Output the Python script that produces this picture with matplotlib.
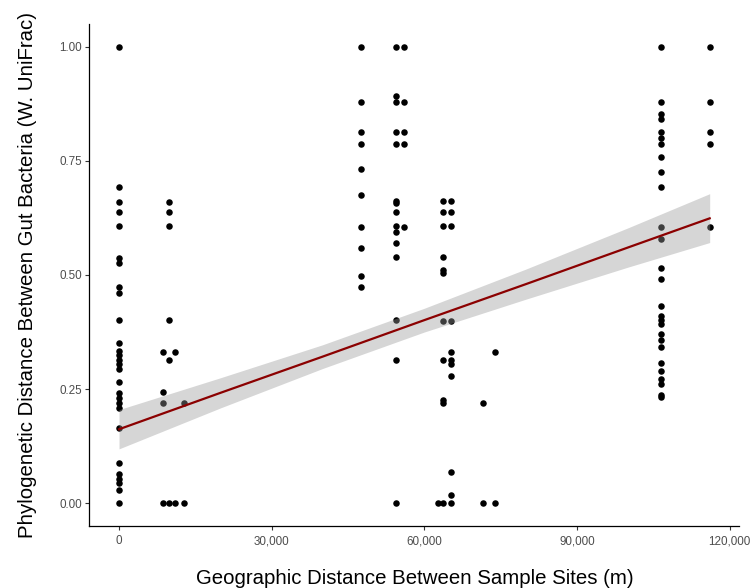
import numpy as np
from matplotlib import pyplot as plt

plt.rcParams['font.family'] = ['Liberation Sans', 'DejaVu Sans']

# distance between sites (m) and the unifrac values measured at each one
site_dist = [0, 8600, 9900, 11000, 12800, 47500, 54400, 56050,
             62700, 63600, 65250, 71450, 73900, 106600, 116100]

site_vals = [
    [1.0, 0.692, 0.660, 0.637, 0.608, 0.537, 0.526, 0.473, 0.461, 0.401,
     0.350, 0.334, 0.325, 0.314, 0.305, 0.295, 0.265, 0.241, 0.230, 0.219,
     0.208, 0.165, 0.087, 0.065, 0.054, 0.045, 0.029, 0.0],
    [0.332, 0.244, 0.220, 0.0],
    [0.660, 0.637, 0.608, 0.401, 0.314, 0.0],
    [0.332, 0.0],
    [0.220, 0.0],
    [1.0, 0.878, 0.813, 0.787, 0.733, 0.675, 0.605, 0.560, 0.498, 0.474],
    [1.0, 0.892, 0.878, 0.813, 0.787, 0.662, 0.657, 0.637, 0.608, 0.595,
     0.571, 0.539, 0.401, 0.314, 0.0],
    [1.0, 0.878, 0.813, 0.787, 0.605],
    [0.0],
    [0.661, 0.637, 0.608, 0.539, 0.511, 0.504, 0.400, 0.313, 0.226, 0.220,
     0.0],
    [0.661, 0.637, 0.608, 0.400, 0.332, 0.314, 0.306, 0.278, 0.068, 0.018,
     0.0],
    [0.220, 0.0],
    [0.332, 0.0],
    [1.0, 0.878, 0.853, 0.841, 0.813, 0.799, 0.787, 0.759, 0.725, 0.693,
     0.606, 0.578, 0.515, 0.492, 0.432, 0.410, 0.401, 0.393, 0.370, 0.357,
     0.343, 0.308, 0.289, 0.273, 0.261, 0.238, 0.233],
    [1.0, 0.878, 0.813, 0.787, 0.606],
]

# lm smooth (line and 95% band edges)
fit_x = [0, 20000, 40000, 60000, 80000, 100000, 116100]
fit_y = [0.162, 0.242, 0.321, 0.401, 0.480, 0.560, 0.624]
fit_lo = [0.119, 0.209, 0.295, 0.375, 0.447, 0.517, 0.571]
fit_hi = [0.205, 0.275, 0.347, 0.427, 0.513, 0.603, 0.678]

x = []
y = []
for d, vals in zip(site_dist, site_vals):
    for v in vals:
        x.append(d)
        y.append(v)

fig = plt.figure(figsize=(7.52, 5.88), dpi=100)
ax = fig.add_axes([0.119, 0.1054, 0.864, 0.854])

ax.scatter(x, y, s=22, color='black', linewidths=0, zorder=2)
ax.fill_between(fit_x, fit_lo, fit_hi, color='#999999', alpha=0.4,
                linewidth=0, zorder=3)
ax.plot(fit_x, fit_y, color='#8B0000', linewidth=1.6, zorder=4)

xmax = max(site_dist)
ax.set_xlim(-0.05 * xmax, 1.05 * xmax)
ax.set_ylim(-0.05, 1.05)
ax.set_xticks([0, 30000, 60000, 90000, 120000])
ax.set_xticklabels(['0', '30,000', '60,000', '90,000', '120,000'])
ax.set_yticks([0, 0.25, 0.5, 0.75, 1.0])
ax.set_yticklabels(['0.00', '0.25', '0.50', '0.75', '1.00'])

for side in ['top', 'right']:
    ax.spines[side].set_visible(False)
for side in ['left', 'bottom']:
    ax.spines[side].set_linewidth(0.9)
ax.tick_params(length=3, width=0.8, color='#333333', labelcolor='#4D4D4D',
               labelsize=8.4)
ax.tick_params(axis='x', pad=3.5)
ax.tick_params(axis='y', pad=2.5)

ax.set_xlabel('Geographic Distance Between Sample Sites (m)', fontsize=14.7,
              labelpad=16)
ax.set_ylabel('Phylogenetic Distance Between Gut Bacteria (W. UniFrac)',
              fontsize=14.7, labelpad=16)

fig.savefig('out.png', dpi=100)
